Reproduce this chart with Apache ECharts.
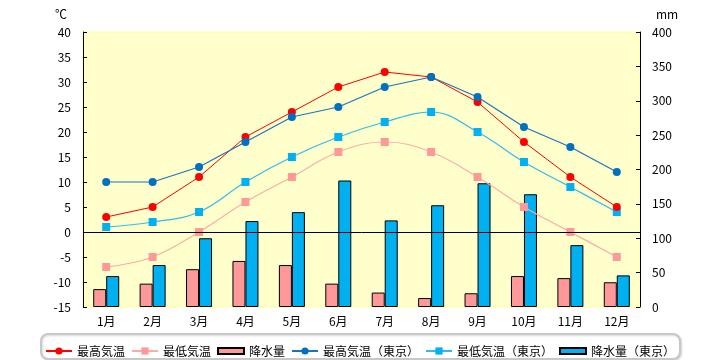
<!DOCTYPE html>
<html>
<head>
<meta charset="utf-8">
<script src="https://cdn.jsdelivr.net/npm/echarts@6/dist/echarts.min.js"></script>
<style>html,body{margin:0;padding:0;background:#fff;}#c{width:720px;height:360px;}</style>
</head>
<body>
<div id="c"></div>
<script>
var months = ['1月','2月','3月','4月','5月','6月','7月','8月','9月','10月','11月','12月'];
var maxTemp = [3,5,11,19,24,29,32,31,26,18,11,5];
var minTemp = [-7,-5,0,6,11,16,18,16,11,5,0,-5];
var precip = [26,34,55,67,61,34,21,13,20,45,42,36];
var maxTempTokyo = [10,10,13,18,23,25,29,31,27,21,17,12];
var minTempTokyo = [1,2,4,10,15,19,22,24,20,14,9,4];
var precipTokyo = [45,61,100,125,138,184,126,148,180,164,90,46];
var names = ['最高気温','最低気温','降水量','最高気温（東京）','最低気温（東京）','降水量（東京）'];

var FONT = 'Noto Sans CJK JP';
var barIcon = 'path://M0,0L26,0L26,6L0,6Z';
var chart = echarts.init(document.getElementById('c'));
chart.setOption({
  animation: false,
  textStyle: {fontFamily: FONT},
  grid: {left: 83, right: 80, top: 32, bottom: 53, show: true, backgroundColor: '#FFFFCC', borderColor: '#FFFF99', borderWidth: 1},
  graphic: [{
    type: 'rect', left: 40, top: 333, z: -1,
    shape: {width: 639, height: 25, r: 7},
    style: {fill: '#fff', stroke: '#C8C8C8', lineWidth: 2, shadowColor: 'rgba(0,0,0,0.15)', shadowOffsetX: 1, shadowOffsetY: 1, shadowBlur: 2}
  }],
  legend: {
    left: 'center', top: 340, itemWidth: 26, itemHeight: 9, itemGap: 6,
    textStyle: {fontSize: 12, color: '#000', fontFamily: FONT},
    data: [
      {name: names[0]}, {name: names[1]},
      {name: names[2], icon: barIcon},
      {name: names[3]}, {name: names[4]},
      {name: names[5], icon: barIcon}
    ]
  },
  xAxis: {
    type: 'category', data: months,
    axisLine: {show: false}, axisTick: {show: false},
    axisLabel: {color: '#000', fontSize: 12, margin: 8, fontFamily: FONT}
  },
  yAxis: [{
    type: 'value', min: -15, max: 40, interval: 5, position: 'left',
    name: '℃', nameLocation: 'end', nameGap: 12,
    nameTextStyle: {color: '#000', fontSize: 12, align: 'right', padding: [0, 16, 0, 0], fontFamily: FONT},
    axisLine: {show: true, lineStyle: {color: '#000', width: 1}},
    axisTick: {show: true, inside: true, length: 4, lineStyle: {color: '#000'}},
    axisLabel: {color: '#000', fontSize: 12, margin: 12, fontFamily: FONT},
    splitLine: {show: false}
  }, {
    type: 'value', min: 0, max: 400, interval: 50, position: 'right',
    name: 'mm', nameLocation: 'end', nameGap: 12,
    nameTextStyle: {color: '#000', fontSize: 12, align: 'left', padding: [0, 0, 0, 16], fontFamily: FONT},
    axisLine: {show: true, lineStyle: {color: '#000', width: 1}},
    axisTick: {show: true, inside: true, length: 4, lineStyle: {color: '#000'}},
    axisLabel: {color: '#000', fontSize: 12, margin: 12, fontFamily: FONT},
    splitLine: {show: false}
  }],
  series: [{
    name: names[2], type: 'bar', yAxisIndex: 1, data: precip,
    barWidth: 13, barGap: '0%',
    itemStyle: {color: '#FF9999', borderColor: '#000', borderWidth: 1}
  }, {
    name: names[5], type: 'bar', yAxisIndex: 1, data: precipTokyo,
    barWidth: 13, barGap: '0%',
    itemStyle: {color: '#00B0F0', borderColor: '#000', borderWidth: 1}
  }, {
    name: names[1], type: 'line', data: minTemp, smooth: 0.4,
    symbol: 'rect', symbolSize: 8,
    lineStyle: {color: '#FFAAAA', width: 1.2},
    itemStyle: {color: '#FF9999'}
  }, {
    name: names[4], type: 'line', data: minTempTokyo, smooth: 0.4,
    symbol: 'rect', symbolSize: 8,
    lineStyle: {color: '#33BBEE', width: 1.2},
    itemStyle: {color: '#00B0F0'}
  }, {
    name: names[0], type: 'line', data: maxTemp,
    symbol: 'circle', symbolSize: 8,
    lineStyle: {color: '#FF0000', width: 1},
    itemStyle: {color: '#FF0000'},
    markLine: {
      silent: true, symbol: 'none', label: {show: false},
      lineStyle: {color: '#000', width: 1, type: 'solid'},
      data: [{yAxis: 0}]
    }
  }, {
    name: names[3], type: 'line', data: maxTempTokyo,
    symbol: 'circle', symbolSize: 8,
    lineStyle: {color: '#1A75BC', width: 1.2},
    itemStyle: {color: '#0070C0'}
  }]
});
</script>
</body>
</html>
